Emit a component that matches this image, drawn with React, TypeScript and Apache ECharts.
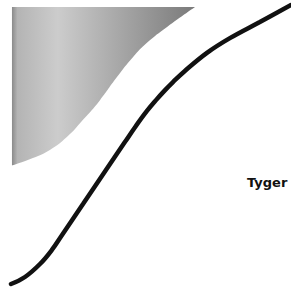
import React, { useEffect, useRef } from "react";
import * as echarts from "echarts";

// Black S-curve: [x, y] in chart units (0..100 both axes)
const curveX = [1.06, 6.0, 11.3, 15.5, 19.1, 26.5, 33.9, 41.3, 45.2, 49.1, 52.3, 55.5, 58.3, 62.5, 70.3, 78.4, 89.0, 100];
const curveY = [0.36, 2.88, 7.55, 12.6, 18.0, 29.1, 40.3, 51.4, 57.2, 62.6, 66.5, 70.1, 73.0, 77.0, 83.5, 88.8, 94.6, 100.7];

// Lower boundary of the shaded region (filled up to the top of the axis)
const shadeX = [1.4, 8.8, 14.8, 20.8, 26.5, 32.5, 38.5, 44.2, 49.1, 56.2, 66.1];
const shadeY = [43.0, 45.7, 48.6, 53.2, 59.4, 66.5, 74.8, 82.0, 87.1, 92.8, 100];

const labelText = "Tyger";

export default function App() {
  const ref = useRef<HTMLDivElement>(null);
  useEffect(() => {
    if (!ref.current) return;
    const chart = echarts.init(ref.current, null, { renderer: "svg" });
    chart.setOption({
      animation: false,
      backgroundColor: "#ffffff",
      grid: { left: 8, right: 0, top: 7, bottom: 4 },
      xAxis: { type: "value", min: 0, max: 100, show: false },
      yAxis: { type: "value", min: 0, max: 100, show: false },
      series: [
        {
          type: "line",
          data: shadeX.map((x, i) => [x, shadeY[i]]),
          smooth: 0.5,
          showSymbol: false,
          lineStyle: { width: 0 },
          areaStyle: {
            origin: "end",
            opacity: 1,
            color: new echarts.graphic.LinearGradient(0, 0, 1, 0, [
              { offset: 0, color: "#8a8a8a" },
              { offset: 0.03, color: "#b4b4b4" },
              { offset: 0.25, color: "#cccccc" },
              { offset: 1, color: "#7a7a7a" },
            ]),
          },
          silent: true,
        },
        {
          type: "line",
          data: curveX.map((x, i) => [x, curveY[i]]),
          smooth: 0.4,
          showSymbol: false,
          clip: false,
          lineStyle: { width: 4.5, color: "#111111", cap: "round" },
          silent: true,
        },
      ],
      graphic: [
        {
          type: "text",
          left: 247,
          top: 176,
          style: {
            text: labelText,
            fontFamily: "DejaVu Sans",
            fontSize: 13,
            fontWeight: "bold",
            fill: "#111111",
          },
        },
      ],
    });
    return () => chart.dispose();
  }, []);
  return (
    <div
      ref={ref}
      style={{ position: "absolute", left: 0, top: 0, width: 291, height: 289 }}
    />
  );
}
